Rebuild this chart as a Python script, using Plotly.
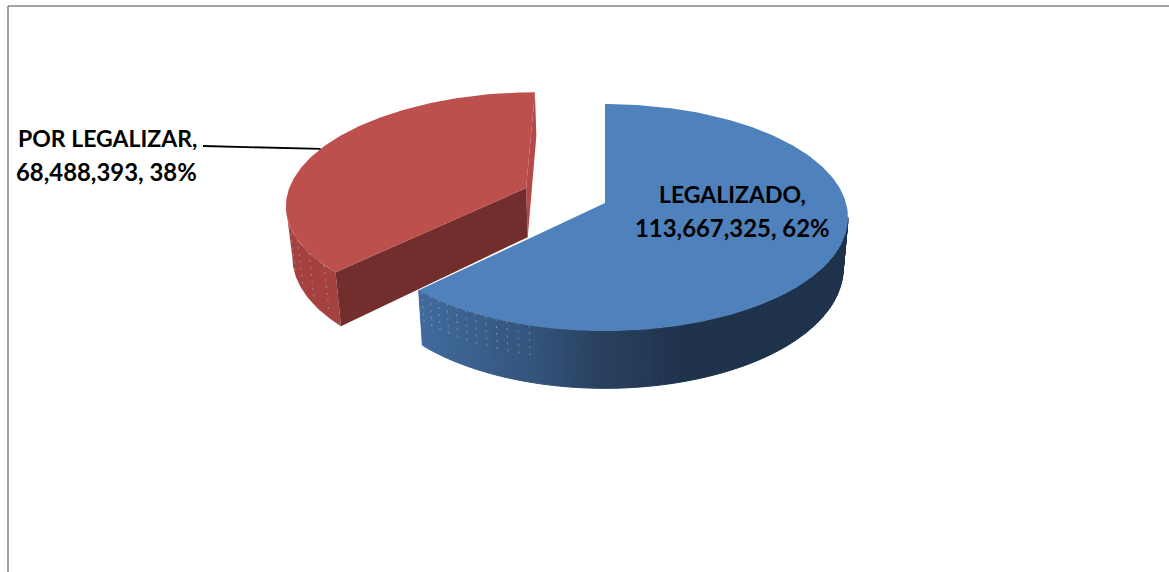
import numpy as np
import plotly.graph_objects as go

categories = ["LEGALIZADO", "POR LEGALIZAR"]
values = [113667325, 68488393]
top_colors = ["#4f81bd", "#bd4f4c"]

W, H = 1169, 572
CX, CY, RX, RY, K = 605, 203, 241, 111.6, 0.128
DEPTH, SHRINK, EXPLODE = 50, 0.98, 0.36


def project(u, v, bottom=False):
    u, v = np.asarray(u, float), np.asarray(v, float)
    w = 1 - K * v
    if bottom:
        return CX + SHRINK * RX * u / w, CY + RY * v / w + DEPTH / w
    return CX + RX * u / w, CY + RY * v / w


total = sum(values)
blue_end = 360 * values[0] / total
red_mid = (blue_end + 360) / 2
ou = EXPLODE * np.sin(np.radians(red_mid))
ov = -EXPLODE * np.cos(np.radians(red_mid))


def rim(a0, a1, n, du=0.0, dv=0.0):
    t = np.radians(np.linspace(a0, a1, n))
    return np.sin(t) + du, -np.cos(t) + dv


def poly(fig, xs, ys, color, lw=0.0):
    fig.add_trace(go.Scatter(
        x=np.r_[xs, xs[0]], y=np.r_[ys, ys[0]], mode="lines", fill="toself",
        fillcolor=color, line=dict(color=color, width=lw), hoverinfo="skip",
        showlegend=False))


def specks(fig, angles, frac, du, dv, color):
    for a in angles:
        u, v = rim(a, a, 1, du, dv)
        x0, y0 = project(u, v)
        x1, y1 = project(u, v, True)
        fig.add_trace(go.Scatter(
            x=[x0[0], x0[0] + frac * (x1[0] - x0[0])],
            y=[y0[0], y0[0] + frac * (y1[0] - y0[0])],
            mode="lines", line=dict(color=color, width=1, dash="2px,5px"),
            hoverinfo="skip", showlegend=False))


def blue_wall_color(x):
    stops_x = [418, 540, 600, 690, 850]
    r = np.interp(x, stops_x, [64, 50, 41, 31, 31])
    g = np.interp(x, stops_x, [107, 82, 64, 50, 50])
    b = np.interp(x, stops_x, [157, 121, 95, 76, 76])
    return f"rgb({r:.0f},{g:.0f},{b:.0f})"


fig = go.Figure()

# red slice: back face sliver, outer wall, inner face, top
ru, rv = rim(blue_end, 360, 160, ou, ov)
tx, ty = project(ru, rv)
bx, by = project(ru, rv, True)
ax, ay = project(ou, ov)
abx, aby = project(ou, ov, True)
poly(fig, [tx[-1], bx[-1], abx, ax], [ty[-1], by[-1], aby, ay], "#b34a47")
silhouette = np.argmin(tx)
poly(fig, np.r_[tx[:silhouette + 1], bx[:silhouette + 1][::-1]],
     np.r_[ty[:silhouette + 1], by[:silhouette + 1][::-1]], "#a5423f")
specks(fig, [229, 236, 243, 250], 0.85, ou, ov, "rgba(150,165,195,0.7)")
poly(fig, [ax, tx[0], bx[0], abx], [ay, ty[0], by[0], aby], "#722d2d")
poly(fig, np.r_[ax, tx], np.r_[ay, ty], top_colors[1])

# blue slice: gradient wall, then top
sil_angle = np.degrees(np.arccos(-K))
edges = np.linspace(sil_angle, blue_end, 90)
for a0, a1 in zip(edges[:-1], edges[1:]):
    u, v = rim(a0, a1, 3)
    x0, y0 = project(u, v)
    x1, y1 = project(u, v, True)
    col = blue_wall_color(float(np.mean(x0)))
    poly(fig, np.r_[x0, x1[::-1]], np.r_[y0, y1[::-1]], col, 1)
specks(fig, np.arange(196, 224, 2.5), 0.55, 0, 0, "rgba(170,185,210,0.55)")
bu, bv = rim(0, blue_end, 240)
tx2, ty2 = project(bu, bv)
poly(fig, np.r_[CX, tx2], np.r_[CY, ty2], top_colors[0])

# leader line to the red slice mid-angle rim
mu, mv = rim(red_mid, red_mid, 1, ou, ov)
lx, ly = project(mu, mv)
fig.add_trace(go.Scatter(x=[203, lx[0]], y=[146, ly[0]], mode="lines",
                         line=dict(color="black", width=1.8),
                         hoverinfo="skip", showlegend=False))

# labels
font1 = dict(family="Lato", size=23, color="black", weight="bold")
font2 = dict(family="Lato", size=23.9, color="black", weight="bold")
pcts = [round(100 * v / total) for v in values]
label_pos = [((732, 194), (732, 227)), ((107, 138), (106, 171))]
for cat, val, pct, (p1, p2) in zip(categories, values, pcts, label_pos):
    fig.add_annotation(x=p1[0], y=p1[1], text=f"{cat},", showarrow=False, font=font1)
    fig.add_annotation(x=p2[0], y=p2[1], text=f"{val:,}, {pct}%", showarrow=False, font=font2)

# outer frame
frame = dict(color="#868686", width=1.5)
fig.add_shape(type="line", x0=8, x1=8, y0=6, y1=H, line=frame)
fig.add_shape(type="line", x0=8, x1=W, y0=6, y1=6, line=frame)

fig.update_layout(
    width=W, height=H, margin=dict(l=0, r=0, t=0, b=0),
    paper_bgcolor="white", plot_bgcolor="white",
    xaxis=dict(range=[0, W], visible=False, fixedrange=True),
    yaxis=dict(range=[H, 0], visible=False, fixedrange=True),
)
fig.write_html("out.html", config={"displayModeBar": False},
               post_script="document.body.style.margin='0';document.body.style.overflow='hidden';")
